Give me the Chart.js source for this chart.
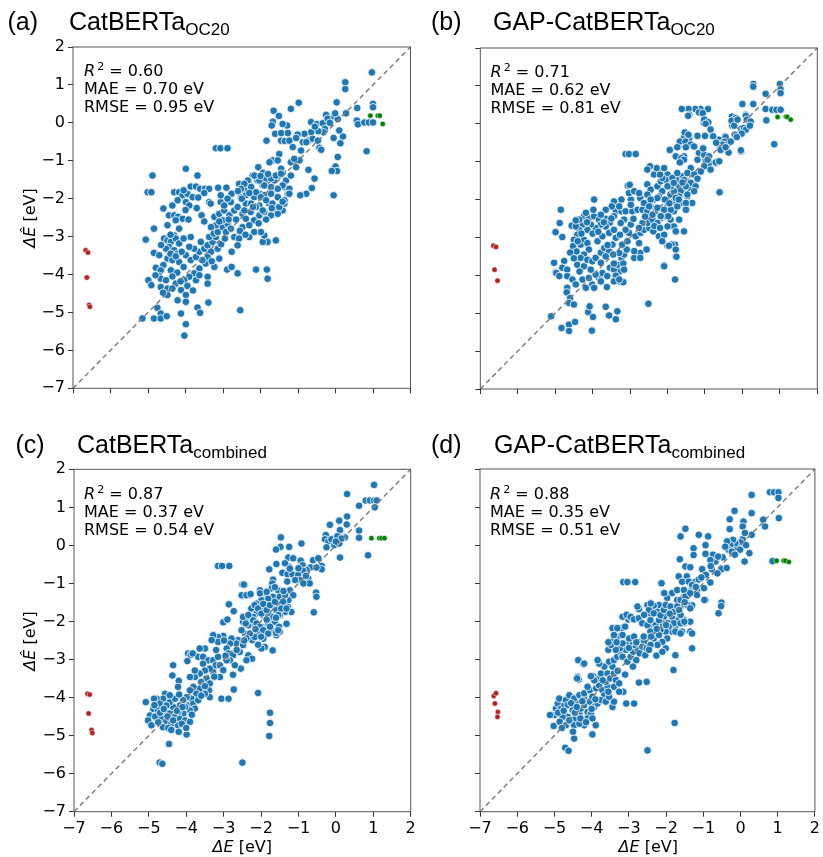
<!DOCTYPE html>
<html>
<head>
<meta charset="utf-8">
<script src="https://cdn.jsdelivr.net/npm/chart.js@4.4.1/dist/chart.umd.min.js"></script>
<style>
  body { margin: 0; width: 823px; height: 857px; background: #fff; position: relative; overflow: hidden; }
  canvas.panel { position: absolute; left: 0; top: 0; }
  .title { position: absolute; font-family: 'Liberation Sans', Arial, sans-serif; font-size: 25px; line-height: 25px; color: #000; white-space: nowrap; }
  .title sub { font-size: 17px; vertical-align: -5px; line-height: 0; }
  .stats { position: absolute; font-family: 'DejaVu Sans', sans-serif; font-size: 16px; line-height: 18.2px; color: #000; white-space: nowrap; }
  .stats sup { font-size: 11px; vertical-align: 6px; line-height: 0; margin-left: 2px; }
  .axlabel { position: absolute; font-family: 'DejaVu Sans', sans-serif; font-size: 16px; line-height: 16px; color: #000; white-space: nowrap; transform: translate(-50%, -50%); }
  .axlabel.y { transform: translate(-50%, -50%) rotate(-90deg); }
</style>
</head>
<body>
<canvas id="pa" class="panel" width="823" height="857"></canvas>
<canvas id="pb" class="panel" width="823" height="857"></canvas>
<canvas id="pc" class="panel" width="823" height="857"></canvas>
<canvas id="pd" class="panel" width="823" height="857"></canvas>

<div class="title" style="left:7.5px; top:9px;">(a)</div>
<div class="title" style="left:69px; top:9px;">CatBERTa<sub>OC20</sub></div>
<div class="title" style="left:431px; top:9px;">(b)</div>
<div class="title" style="left:493px; top:9px;">GAP-CatBERTa<sub>OC20</sub></div>
<div class="title" style="left:15.5px; top:432px;">(c)</div>
<div class="title" style="left:77px; top:432px;">CatBERTa<sub>combined</sub></div>
<div class="title" style="left:431px; top:432px;">(d)</div>
<div class="title" style="left:494px; top:432px;">GAP-CatBERTa<sub>combined</sub></div>

<div class="stats" style="left:84px; top:62px;"><i>R</i><sup>2</sup> = 0.60<br>MAE = 0.70 eV<br>RMSE = 0.95 eV</div>
<div class="stats" style="left:490.5px; top:63px;"><i>R</i><sup>2</sup> = 0.71<br>MAE = 0.62 eV<br>RMSE = 0.81 eV</div>
<div class="stats" style="left:84px; top:485px;"><i>R</i><sup>2</sup> = 0.87<br>MAE = 0.37 eV<br>RMSE = 0.54 eV</div>
<div class="stats" style="left:490px; top:485px;"><i>R</i><sup>2</sup> = 0.88<br>MAE = 0.35 eV<br>RMSE = 0.51 eV</div>

<div class="axlabel y" style="left:30px; top:217.5px;"><i>ΔÊ</i> [eV]</div>
<div class="axlabel y" style="left:30px; top:640.5px;"><i>ΔÊ</i> [eV]</div>
<div class="axlabel" style="left:242.3px; top:846.5px;"><i>ΔE</i> [eV]</div>
<div class="axlabel" style="left:648.3px; top:846.5px;"><i>ΔE</i> [eV]</div>

<script>
// axis range shared by all four parity plots
const axisMin = -7;
const axisMax = 2;
const parityLine = [-7, 2];

// (a) CatBERTa OC20: [true dE, predicted dE]
const pointsA = [
  [-3.19,-0.67],[-3.07,-0.67],[-2.88,-0.67],[-3.99,-1.21],
  [-4.88,-1.39],[-3.68,-1.39],[-5.01,-1.83],[-4.91,-1.83],
  [-3.86,-1.68],[-3.72,-1.68],[-3.61,-1.74],[-3.48,-1.74],[-3.37,-1.74],[-3.13,-1.71],[-2.91,-1.71],[-4.30,-1.83],
  [-4.17,-1.83],[-4.08,-1.91],[-3.95,-1.87],[-3.81,-1.96],[-3.99,-2.09],[-4.21,-2.04],[-4.35,-2.18],[-3.90,-2.18],
  [-4.59,-2.26],[-3.66,-1.97],[-3.37,-2.09],[-3.33,-2.13],[-3.06,-2.09],[-3.57,-2.44],[-4.44,-2.44],[-4.30,-2.44],
  [-4.20,-2.48],[-4.08,-2.53],[-4.26,-2.57],[-4.48,-2.70],[-4.84,-2.79],[-4.17,-2.79],[-4.30,-2.97],[-5.06,-3.08],
  [-4.57,-3.05],[-4.48,-3.10],[-4.39,-3.14],[-4.26,-3.05],[-4.17,-3.18],[-4.44,-3.27],[-4.30,-3.36],[-4.21,-3.45],
  [-4.84,-3.43],[-4.70,-3.49],[-4.48,-3.58],[-4.35,-3.62],[-4.17,-3.67],[-4.59,-3.75],[-4.79,-3.82],[-4.66,-3.89],
  [-4.39,-3.89],[-4.70,-4.04],[-4.66,-4.11],[-4.99,-4.15],[-4.91,-4.28],[-4.66,-4.33],[-4.48,-4.37],[-4.48,-4.54],
  [-4.26,-4.24],[-4.35,-4.37],[-4.12,-4.41],[-3.99,-4.54],[-4.21,-4.68],[-3.99,-4.72],[-4.75,-4.88],[-4.66,-5.03],
  [-4.84,-5.16],[-4.66,-5.16],[-4.50,-5.10],[-5.15,-5.16],[-4.12,-5.03],[-3.99,-5.31],[-4.03,-5.61],[-3.68,-4.87],
  [-3.61,-5.01],[-3.39,-4.74],[-2.54,-4.94],
  [-3.99,-3.49],[-3.86,-3.62],[-3.72,-3.54],[-3.63,-3.40],[-3.50,-3.32],[-3.41,-3.23],[-3.28,-3.14],[-3.19,-3.01],
  [-3.32,-3.40],[-3.14,-3.32],[-3.41,-3.54],[-3.46,-3.71],[-3.63,-3.84],[-3.77,-3.97],[-3.90,-4.06],[-4.03,-4.15],
  [-3.72,-4.15],[-3.63,-4.02],[-3.41,-4.06],[-3.41,-4.24],[-3.23,-3.80],[-3.10,-3.58],[-3.77,-3.32],[-3.90,-3.27],
  [-3.86,-3.01],[-3.59,-3.14],[-3.37,-3.01],[-3.25,-2.92],[-3.14,-2.88],[-3.01,-2.75],[-2.88,-2.66],[-2.92,-2.88],
  [-2.79,-2.79],[-2.70,-3.01],[-2.57,-3.05],[-2.61,-3.23],[-2.77,-3.40],[-2.89,-3.87],[-2.77,-3.80],[-2.61,-3.97],
  [-2.12,-3.87],[-1.83,-3.87],[-1.81,-4.11],[-1.59,-3.10],[-1.81,-3.14],[-1.94,-3.14],[-1.90,-2.97],
  [-3.23,-2.48],[-3.10,-2.40],[-2.97,-2.31],[-2.83,-2.44],[-3.01,-2.57],[-3.19,-2.70],[-3.32,-2.75],[-2.70,-2.31],
  [-2.61,-2.22],[-2.48,-2.40],[-2.39,-2.53],[-2.26,-2.35],[-2.17,-2.57],[-2.03,-2.44],[-1.90,-2.35],[-1.99,-2.88],
  [-2.17,-2.88],[-2.30,-3.01],[-2.48,-2.75],[-2.30,-2.70],[-2.52,-1.96],[-2.57,-1.61],[-2.43,-1.78],[-2.30,-1.61],
  [-2.21,-1.39],[-2.08,-1.52],[-1.94,-1.65],[-1.81,-1.56],[-1.63,-1.52],[-1.50,-1.39],[-1.41,-1.30],[-1.72,-1.78],
  [-1.59,-1.74],[-1.36,-1.69],[-2.03,-1.87],[-1.90,-1.91],[-2.17,-1.96],[-2.03,-2.18],[-1.77,-2.13],[-1.63,-2.26],
  [-1.41,-2.31],[-1.54,-2.40],[-1.36,-2.13],[-2.39,-2.13],[-2.79,-2.09],[-2.97,-2.18],[-3.06,-1.91],[-2.77,-1.87],
  [-2.88,-2.00],
  [0.97,1.33],[0.26,1.07],[0.26,0.89],[1.00,0.50],[1.00,0.41],[0.03,0.54],[0.58,0.39],[-0.98,0.53],
  [-1.19,0.37],[-1.65,0.32],[-1.51,0.18],[-1.67,0.03],[-1.70,-0.07],[-1.29,-0.07],[-1.41,-0.03],[-0.65,0.02],
  [-0.50,-0.03],[-0.34,-0.01],[-0.25,0.21],[-0.21,0.11],[-0.03,0.17],[0.06,0.10],[0.28,0.25],[-0.01,0.25],
  [-0.28,-0.16],[-0.32,-0.25],[-0.46,-0.22],[-0.65,-0.25],[-1.61,-0.29],[-1.45,-0.27],[-1.27,-0.27],[-1.02,-0.31],
  [-0.83,-0.29],[-0.72,-0.47],[-0.61,-0.42],[-0.47,-0.47],[-1.84,-0.47],[-1.45,-0.47],[-1.35,-0.48],[-1.23,-0.47],
  [-1.14,-0.64],[-1.01,-0.31],[-0.92,-0.73],[-0.87,-0.51],[-0.78,-0.51],[-0.43,-0.66],[-0.38,-0.71],[-0.05,-0.40],
  [0.20,-0.36],[0.13,-0.54],[0.06,-0.90],[0.00,-1.15],[0.04,-1.27],[-0.10,-1.27],[-0.05,-1.91],[0.57,0.06],
  [0.60,-0.04],[0.77,0.01],[0.89,0.01],[1.00,0.01],[0.83,-0.75],
  [-1.50,-0.82],[-1.67,-0.99],[-1.76,-1.04],[-1.54,-0.99],[-1.45,-1.21],[-1.19,-1.04],[-0.96,-0.99],[-1.05,-1.17],
  [-0.72,-1.24],[-0.56,-1.47],[-0.63,-1.72],[-0.78,-1.87],[-0.94,-1.91],[-2.06,-1.17],[-1.94,-1.32],[-2.03,-1.52],
  [-1.85,-1.47],[-1.72,-1.47],[-1.59,-1.39],[-1.45,-1.34],[-1.32,-1.52],[-1.19,-1.39],[-1.41,-1.65],[-1.23,-1.74],
  [-1.27,-1.87],[-1.54,-1.74],[-1.72,-1.69],[-1.90,-1.65],[-2.16,-1.39],[-2.34,-1.52],[-2.25,-1.69],[-2.43,-1.61],
  [-2.52,-1.74],[-2.12,-1.83],[-2.39,-1.91],[-2.50,-2.00],[-1.99,-1.96],[-1.85,-2.04],[-1.68,-2.13],[-1.54,-1.96],
  [-1.72,-1.87],[-2.25,-2.13],[-2.12,-2.22],[-2.43,-2.31],[-1.94,-2.31],[-1.72,-2.44],[-1.50,-2.22],[-1.36,-2.04],
  [-1.23,-1.87],[-1.41,-2.08],
  [-4.52,-3.32],[-4.40,-3.45],[-4.26,-3.52],[-4.10,-3.40],[-4.05,-3.80],[-4.22,-3.95],[-4.52,-4.15],[-4.35,-4.05],
  [-4.13,-4.18],[-3.95,-4.30],[-3.80,-4.42],[-4.60,-4.48],[-4.80,-4.02],[-3.55,-3.62],[-3.30,-3.65],[-3.05,-3.20],
  [-2.95,-3.05],[-3.10,-2.60],[-2.85,-2.55],[-2.65,-2.55],[-2.55,-2.85],[-2.40,-2.95],[-2.20,-2.22],[-2.05,-2.65],
  [-1.85,-2.55],[-1.70,-2.25],[-2.30,-1.85],[-2.60,-1.80],[-2.00,-1.40],[-1.80,-1.35],[-4.05,-1.78],[-3.50,-1.85],
  [-4.40,-2.95],[-4.65,-3.22],[-4.05,-3.05],[-3.92,-2.55],[-3.70,-2.25],[-3.50,-2.60],[-4.00,-2.30],[-1.10,-0.95],
  [-1.05,-0.40],[-0.55,-0.10],[-0.15,0.00],[0.10,-0.20]
];
const redA = [[-6.66,-3.36],[-6.60,-3.42],[-6.63,-4.08],[-6.57,-4.80],[-6.55,-4.85]];
const greenA = [[0.93,0.19],[1.13,0.19],[1.18,0.19],[1.26,-0.03]];

// (b) GAP-CatBERTa OC20
const pointsB = [
  [0.29,1.05],[0.29,0.98],[1.00,1.05],[1.02,0.91],[1.02,0.81],[0.62,0.79],[0.00,0.52],[0.29,0.52],
  [0.62,0.39],[0.80,0.37],[0.91,0.37],[1.02,0.37],[0.64,0.09],[0.85,-0.54],[0.09,0.24],[0.13,0.13],
  [0.06,-0.16],[-0.04,-0.20],[-0.28,0.19],[-0.27,-0.05],[-0.18,0.15],[-0.46,-0.33],[-0.37,-0.46],[-0.55,-0.60],
  [-0.37,-0.76],[-0.04,-0.73],[-0.92,0.39],[-1.12,0.39],[-1.26,0.39],[-1.44,0.39],[-1.62,0.39],[-1.42,0.24],
  [-1.00,0.11],[-1.03,0.02],[-0.94,0.04],[-0.80,-0.32],[-1.00,-0.32],[-0.62,-0.42],[-0.53,-0.51],[-1.51,-0.25],
  [-1.56,-0.36],[-1.42,-0.38],[-1.71,-0.60],[-1.29,-0.60],[-1.94,-0.70],[-1.78,-0.86],[-1.56,-0.86],[-1.16,-0.82],
  [-0.98,-0.95],[-0.89,-1.04],[-0.71,-1.04],[-0.61,-1.81],[-3.12,-0.80],[-3.03,-0.80],[-2.85,-0.80],[-3.96,-2.00],
  [-3.06,-1.63],[-4.85,-2.27],[-4.88,-2.62],[-4.99,-2.86],[-4.81,-2.99],[-5.03,-3.67],[-4.99,-3.92],[-5.11,-5.08],
  [-4.83,-5.39],[-4.63,-5.30],[-4.63,-5.47],[-4.47,-5.23],[-4.02,-5.46],[-4.12,-4.97],[-3.99,-5.10],[-4.08,-4.82],
  [-3.65,-4.83],[-3.56,-5.06],[-3.38,-5.16],[-3.34,-4.95],[-2.51,-4.75],[-2.09,-3.74],[-1.80,-4.11],[-1.78,-3.50],
  [-1.80,-3.19],[-2.00,-3.22],[-1.89,-3.19],[-1.56,-2.84],[-1.49,-2.27],[-1.51,-2.14],[-2.55,-3.32],[-2.76,-3.50],
  [-2.89,-3.54],[-3.28,-4.16],[-3.29,-3.90],
  [-4.56,-2.69],[-4.23,-2.44],[-4.10,-2.49],[-3.96,-2.44],[-3.83,-2.53],[-3.65,-2.51],[-3.38,-2.31],[-3.23,-2.31],
  [-3.12,-2.31],[-2.94,-2.31],[-2.80,-2.27],[-2.67,-2.27],[-3.43,-2.44],[-3.54,-2.61],[-3.65,-2.71],[-3.78,-2.66],
  [-3.92,-2.75],[-4.05,-2.66],[-4.14,-2.80],[-4.27,-2.66],[-4.36,-2.80],[-4.41,-2.93],[-4.50,-3.06],[-4.52,-3.23],
  [-4.43,-3.37],[-4.32,-3.19],[-4.23,-3.06],[-4.14,-3.15],[-4.10,-3.32],[-4.23,-3.45],[-4.32,-3.54],[-4.41,-3.72],
  [-4.23,-3.76],[-4.14,-3.59],[-4.01,-3.63],[-3.92,-3.54],[-3.78,-3.40],[-3.69,-3.28],[-3.87,-3.10],[-3.74,-2.97],
  [-3.56,-2.88],[-3.43,-2.80],[-3.38,-3.01],[-3.47,-3.19],[-3.56,-3.37],[-3.65,-3.50],[-3.78,-3.67],[-4.76,-3.62],
  [-4.81,-3.80],[-4.68,-3.85],[-4.97,-3.94],[-4.89,-4.02],[-4.68,-4.02],[-4.54,-4.11],[-4.68,-4.33],[-4.69,-4.45],
  [-4.60,-4.60],[-4.63,-4.73],[-4.50,-4.77],[-4.45,-4.24],[-4.27,-4.11],[-4.18,-4.33],[-4.01,-4.24],[-3.96,-4.33],
  [-3.83,-4.07],[-3.74,-3.94],[-3.61,-4.02],[-3.54,-3.80],[-3.43,-3.85],[-3.34,-3.72],[-3.23,-3.54],[-3.16,-3.45],
  [-3.29,-3.41],[-3.09,-3.32],[-3.21,-3.19],[-3.07,-3.10],[-3.03,-2.88],[-3.12,-2.80],[-3.27,-2.93],[-2.98,-2.66],
  [-2.91,-2.51],[-3.16,-2.53],[-3.25,-2.62],[-3.38,-4.01],[-3.43,-4.16],[-3.62,-4.31],[-3.78,-4.16],[-3.92,-3.98],
  [-4.10,-4.07],[-3.18,-4.18],[-3.29,-4.11],[-3.18,-3.69],[-3.43,-3.69],
  [-2.73,-3.41],[-2.89,-3.36],[-2.56,-3.32],[-2.76,-3.15],[-2.85,-2.97],[-2.72,-2.88],[-2.63,-2.80],[-2.49,-2.75],
  [-2.54,-2.62],[-2.67,-2.62],[-2.76,-2.75],[-2.40,-2.53],[-2.43,-2.36],[-2.54,-2.31],[-2.32,-2.31],[-2.18,-2.49],
  [-2.27,-2.62],[-2.38,-2.84],[-2.23,-2.97],[-2.09,-2.93],[-2.14,-3.10],[-2.73,-3.54],[-3.16,-3.85],
  [-2.98,-2.00],[-2.73,-1.96],[-2.98,-2.14],[-2.63,-2.09],[-2.45,-2.18],[-2.23,-2.22],[-2.05,-2.31],[-2.00,-2.18],
  [-1.83,-2.31],[-2.05,-2.44],[-1.92,-2.53],[-1.69,-2.53],[-1.83,-2.71],[-2.00,-2.71],[-1.78,-2.84],[-1.96,-3.22],
  [-1.78,-3.32],[-1.76,-3.51],[-2.09,-3.76],
  [-3.43,-2.05],[-3.23,-2.00],[-3.29,-2.18],[-3.49,-2.18],[-3.65,-2.27],[-3.78,-2.40],[-3.98,-2.27],[-4.18,-2.35],
  [-4.36,-2.53],[-4.45,-2.71],
  [-3.03,-1.83],[-2.89,-1.78],[-2.76,-1.83],[-3.01,-1.61],[-2.54,-1.60],[-2.45,-1.74],[-2.27,-1.65],[-2.14,-1.78],
  [-2.23,-1.92],[-2.54,-1.87],[-2.36,-2.00],[-2.05,-2.00],[-1.92,-1.87],[-1.87,-1.74],[-1.69,-1.65],[-1.74,-1.48],
  [-1.60,-1.39],[-1.47,-1.52],[-1.60,-1.74],[-1.38,-1.74],[-1.47,-1.92],[-1.34,-2.09],[-1.64,-2.09],[-1.83,-2.05],
  [-2.18,-1.52],[-2.00,-1.34],[-1.87,-1.56],[-2.23,-1.26],[-2.36,-1.34],
  [-1.45,0.21],[-1.16,0.30],[-1.06,0.28],[-0.98,0.06],[-1.02,0.11],[-0.91,0.04],[-0.98,0.00],
  [-0.29,0.08],[-0.22,-0.05],[-0.13,0.11],[0.09,0.21],[0.12,0.11],[0.22,0.06],[0.04,-0.11],[0.09,-0.16],
  [-0.02,-0.26],[-0.20,-0.29],[-0.45,-0.35],[-0.47,-0.47],[-0.53,-0.55],[-0.60,-0.64],[-0.36,-0.51],[-0.31,-0.47],
  [-0.04,-0.70],[-1.54,-0.23],[-1.44,-0.29],[-1.20,-0.32],[-0.78,-0.33],[-1.67,-0.47],[-1.52,-0.47],[-1.38,-0.55],
  [-1.74,-0.62],[-1.51,-0.62],[-1.29,-0.60],[-1.94,-0.69],[-1.16,-0.77],[-1.63,-0.91],[-1.56,-0.95],[-1.67,-1.02],
  [-1.02,-0.82],[-0.89,-0.86],[-0.71,-1.02],[-0.93,-0.95],[-1.20,-0.95],[-1.02,-1.12],[-1.11,-1.26],[-0.85,-1.21],
  [-0.62,-0.99],[-0.58,-0.69],[-0.45,-0.62],
  [-1.38,-1.17],[-1.47,-1.30],[-1.29,-1.34],[-1.56,-1.48],[-1.38,-1.56],[-1.51,-1.65],[-1.25,-1.65],[-1.29,-1.78],
  [-1.65,-1.78],[-1.47,-1.87],[-1.69,-1.92],[-1.83,-1.78],[-1.91,-1.65],[-2.05,-1.48],[-2.14,-1.43],[-2.20,-1.34],
  [-2.29,-1.17],[-2.47,-1.12],[-2.54,-1.21],[-2.09,-1.17],[-2.00,-1.65],[-1.78,-1.96],[-2.07,-2.00],[-2.27,-1.96],
  [-2.45,-2.00],[-2.49,-2.18],[-2.27,-2.22],[-2.09,-2.27],[-1.91,-2.27],[-1.98,-2.44],[-2.18,-2.44],[-2.40,-2.40],
  [-1.74,-2.18],[-1.51,-2.09],[-1.51,-2.27],[-1.87,-1.43],[-1.74,-1.30],[-1.83,-1.56],
  [-4.45,-2.55],[-4.30,-2.90],[-4.00,-2.90],[-3.85,-2.85],[-3.70,-2.60],[-3.50,-2.50],[-4.40,-3.10],[-4.15,-2.60],
  [-4.60,-3.40],[-4.50,-3.55],[-4.35,-3.90],[-4.05,-3.85],[-3.60,-3.20],[-3.45,-3.45],[-2.60,-2.45],[-2.35,-2.70],
  [-2.20,-2.75],[-1.95,-2.10],[-1.70,-2.00],[-1.60,-1.55],[-1.20,-1.45],[-1.05,-0.65],[-0.70,-0.50],[-0.85,-0.15],
  [-0.15,-0.35],[0.20,-0.05]
];
const redB = [[-6.65,-3.22],[-6.58,-3.25],[-6.62,-3.85],[-6.54,-4.14]];
const greenB = [[0.94,0.18],[1.16,0.19],[1.20,0.18],[1.29,0.11]];

// (c) CatBERTa combined
const pointsC = [
  [1.02,1.59],[0.30,1.35],[0.80,1.18],[0.91,1.18],[1.02,1.18],[1.09,1.18],[1.04,1.00],[0.62,1.04],
  [0.30,0.76],[0.29,0.55],[0.09,0.65],[-0.16,0.54],[0.11,0.40],[0.62,0.39],[0.62,0.20],[0.24,0.21],
  [0.86,-0.26],[0.11,-0.32],[-0.27,0.27],[-0.29,0.16],[-0.20,0.10],[-0.12,0.16],[-0.04,0.01],[0.02,0.14],
  [0.04,0.24],[0.09,0.05],[0.15,0.18],
  [-1.48,-0.04],[-1.25,-0.04],[-0.92,0.05],[-1.47,0.21],[-1.60,-0.11],
  [-1.27,-0.32],[-1.14,-0.34],[-0.94,-0.40],[-1.25,-0.56],[-1.36,-0.47],[-1.59,-0.49],[-1.78,-0.63],[-1.43,-0.72],
  [-1.29,-0.76],[-1.16,-0.76],[-0.89,-0.52],[-0.68,-0.58],[-0.61,-0.39],[-0.47,-0.34],[-0.38,-0.54],[-0.38,-0.63],
  [-0.52,-0.58],[-0.78,-0.65],[-0.87,-0.67],[-1.01,-0.78],[-0.96,-0.91],[-0.74,-0.87],[-0.70,-1.00],[-0.87,-1.00],
  [-1.09,-0.91],[-1.68,-0.90],[-1.70,-1.00],[-1.72,-1.13],[-0.53,-1.24],[-0.52,-1.35],[-0.59,-1.76],[-1.23,-0.61],
  [-1.87,-1.26],[-2.03,-1.18],[-2.30,-1.31],[-2.48,-1.02],[-2.44,-1.04],
  [-1.36,-1.31],[-1.23,-1.18],[-1.14,-1.31],[-1.27,-1.44],[-1.41,-1.40],[-1.50,-1.26],[-1.54,-1.18],[-1.63,-1.10],
  [-1.68,-1.35],[-1.81,-1.40],[-1.99,-1.44],[-2.12,-1.53],[-2.26,-1.66],[-2.03,-1.66],[-1.85,-1.57],[-1.68,-1.57],
  [-1.54,-1.53],[-1.43,-1.57],[-1.28,-1.62],[-1.19,-1.75],[-1.36,-1.75],[-1.50,-1.84],[-1.68,-1.88],[-1.81,-1.79],
  [-1.94,-1.84],[-2.12,-1.79],[-2.21,-1.88],[-2.39,-1.88],[-2.48,-2.01],[-2.34,-2.10],[-2.17,-2.05],[-1.99,-2.14],
  [-1.81,-2.05],[-1.63,-2.01],[-1.52,-2.14],[-1.72,-2.23],[-1.90,-2.27],[-2.08,-2.27],[-2.26,-2.32],[-2.43,-2.32],
  [-1.32,-2.07],[-1.50,-2.27],[-1.59,-2.36],
  [-3.15,-0.54],[-3.04,-0.54],[-2.85,-0.54],[-2.50,-1.03],[-2.46,-1.03],[-2.50,-1.33],[-2.30,-1.29],[-2.03,-1.26],
  [-2.86,-1.55],[-2.73,-1.73],[-3.01,-2.02],[-2.90,-1.95],[-2.52,-1.31],[-2.39,-1.31],[-2.28,-1.28],[-1.85,-1.22],
  [-2.17,-1.57],[-2.08,-1.66],[-1.94,-1.54],[-1.99,-1.79],[-1.85,-1.70],[-1.76,-1.57],[-1.63,-1.48],[-1.50,-1.35],
  [-1.36,-1.31],[-1.41,-1.48],[-1.59,-1.70],[-1.46,-1.66],[-1.32,-1.66],[-1.54,-1.83],[-1.67,-1.88],[-1.32,-2.06],
  [-1.60,-2.30],[-1.54,-2.23],[-1.69,-2.76],[-1.90,-2.67],[-1.99,-2.71],[-2.08,-2.61],[-2.24,-2.49],[-2.17,-2.41],
  [-2.30,-2.32],[-2.39,-2.45],[-2.52,-2.23],[-2.41,-2.05],[-2.48,-1.88],[-2.34,-1.83],[-2.21,-1.97],[-2.12,-2.05],
  [-2.03,-2.14],[-1.94,-2.23],[-1.76,-2.14],[-1.81,-2.32],[-1.94,-2.45],[-2.61,-2.49],[-2.66,-2.58],[-2.48,-2.62],
  [-2.79,-2.45],[-2.83,-2.58],[-2.92,-2.71],[-2.88,-2.84],[-2.75,-2.89],[-2.57,-2.80],[-2.34,-2.89],[-2.24,-2.98],
  [-2.54,-3.24],[-2.75,-3.40],
  [-3.01,-2.38],[-3.15,-2.41],[-3.28,-2.36],[-3.15,-2.54],[-3.32,-2.49],[-2.99,-2.50],[-3.50,-2.71],[-3.64,-2.71],
  [-3.81,-2.84],[-3.95,-2.84],[-3.88,-2.88],[-3.68,-2.93],[-3.55,-2.93],[-3.41,-3.02],[-3.55,-3.11],[-3.28,-3.02],
  [-3.15,-2.93],[-3.21,-3.15],[-3.10,-3.15],[-3.01,-3.28],[-3.10,-3.46],[-3.28,-3.33],[-3.37,-3.24],[-3.50,-3.29],
  [-3.64,-3.37],[-3.77,-3.46],[-3.46,-3.50],[-3.60,-3.59],[-3.37,-3.63],[-3.39,-3.81],[-3.37,-3.99],[-3.50,-3.90],
  [-3.64,-3.77],[-3.73,-3.90],[-3.81,-3.72],[-3.86,-4.03],[-3.90,-3.81],[-3.99,-3.99],[-4.08,-4.07],[-3.95,-4.21],
  [-3.81,-4.16],[-3.68,-4.07],[-3.77,-4.29],[-3.90,-4.34],[-4.03,-4.25],[-4.17,-4.21],[-4.08,-4.42],[-4.21,-4.38],
  [-4.35,-4.25],[-4.44,-4.12],[-4.30,-4.03],[-4.19,-3.92],[-4.57,-3.90],[-4.44,-3.94],[-4.62,-4.03],[-4.79,-4.03],
  [-4.71,-4.16],[-4.53,-4.21],[-4.88,-4.30],[-4.75,-4.34],[-4.57,-4.38],[-4.44,-4.42],[-4.30,-4.51],[-4.17,-4.56],
  [-4.03,-4.60],[-3.90,-4.64],[-4.97,-4.47],[-4.83,-4.50],[-4.66,-4.56],[-4.53,-4.62],[-4.40,-4.69],[-4.22,-4.73],
  [-5.02,-4.60],[-4.93,-4.73],[-4.62,-4.78],[-4.48,-4.80],[-4.12,-4.69],[-3.99,-4.97],[-5.08,-4.12],[-4.86,-4.03],
  [-4.35,-3.15],[-4.37,-3.42],[-4.20,-3.56],[-4.22,-3.72],[-3.97,-3.04],[-3.83,-2.84],[-3.90,-3.46],[-3.77,-3.29],
  [-3.06,-4.03],[-2.87,-4.03],[-2.73,-3.79],[-2.08,-3.88],[-1.76,-4.40],[-1.76,-4.67],[-1.78,-5.01],[-2.50,-5.71],
  [-4.46,-5.22],[-4.71,-5.71],[-4.64,-5.74],
  [-2.83,-3.02],[-2.70,-3.15],[-2.92,-3.02],[-2.39,-3.02],
  [-4.85,-4.20],[-4.70,-4.40],[-4.50,-4.50],[-4.35,-4.60],[-4.25,-4.35],[-4.10,-4.25],[-4.60,-4.30],[-4.75,-4.65],
  [-4.40,-4.85],[-4.20,-4.90],[-4.00,-4.80],[-3.85,-4.45],[-3.60,-3.95],[-3.50,-3.70],[-3.25,-3.45],[-3.20,-2.75],
  [-2.95,-2.90],[-2.65,-2.75],[-2.45,-2.50],[-2.15,-2.20],[-2.00,-2.40],[-1.85,-1.95],[-1.60,-1.90],[-1.40,-1.20],
  [-1.30,-0.95],[-1.00,-0.60],[-0.80,-0.80],[-0.25,-0.05],[0.00,0.10]
];
const redC = [[-6.64,-3.90],[-6.58,-3.92],[-6.61,-4.42],[-6.53,-4.85],[-6.51,-4.93]];
const greenC = [[0.95,0.19],[1.16,0.19],[1.22,0.19],[1.30,0.19]];

// (d) GAP-CatBERTa combined
const pointsD = [
  [0.79,1.39],[0.90,1.39],[1.02,1.39],[1.02,1.24],[0.30,1.32],[-0.16,0.90],[0.30,0.84],[0.61,0.67],
  [0.66,0.49],[1.03,0.71],[-0.29,0.68],[-0.29,0.42],[0.08,0.62],[0.06,0.49],[0.30,0.27],[0.06,0.16],
  [0.12,0.32],[0.00,0.07],[-0.10,-0.03],[-0.01,-0.12],[0.11,-0.43],[0.24,-0.21],[-0.14,0.05],[-0.20,0.14],
  [-0.27,0.00],[-0.32,-0.12],[-0.36,0.10],[-0.41,-0.04],[-0.23,-0.17],[0.86,-0.42],
  [-1.48,0.43],[-1.61,0.23],[-1.12,0.27],[-0.87,0.23],[-1.26,-0.08],[-0.94,-0.23],[-0.74,-0.25],[-0.48,-0.32],
  [-0.67,-0.43],[-0.81,-0.39],[-0.94,0.00],[-1.26,-0.26],[-1.48,-0.56],[-1.35,-0.58],[-1.63,-0.37],[-1.03,-0.63],
  [-0.93,-0.78],[-0.81,-0.98],[-0.77,-0.63],[-0.50,-0.63],[-0.62,-0.74],[-0.37,-0.60],
  [-1.44,-0.82],[-1.66,-0.82],[-1.57,-0.96],[-1.39,-0.96],[-1.21,-0.96],[-1.30,-1.05],[-1.12,-0.90],[-0.98,-1.13],
  [-1.17,-1.18],[-1.17,-1.31],[-1.35,-1.22],[-1.52,-1.35],[-1.70,-1.44],[-1.84,-1.26],[-1.97,-1.39],[-2.05,-1.26],
  [-2.14,-1.00],[-1.70,-1.18],[-1.52,-1.18],[-1.43,-1.54],[-1.30,-1.58],[-1.61,-1.61],[-1.75,-1.70],[-1.88,-1.66],
  [-2.06,-1.61],[-2.19,-1.57],[-2.33,-1.59],[-2.46,-1.57],[-2.24,-1.75],[-2.42,-1.79],[-2.06,-1.88],[-1.84,-1.88],
  [-1.66,-1.96],[-1.52,-1.96],[-1.93,-2.05],[-2.10,-2.05],[-2.28,-2.09],[-2.46,-2.14],[-1.75,-2.14],[-1.52,-2.05],
  [-1.61,-2.27],[-1.35,-2.27],[-1.84,-2.27],[-2.06,-2.27],[-2.33,-2.32],[-0.94,-1.44],[-0.51,-1.51],[-0.52,-1.60],
  [-0.59,-1.79],[-0.97,-1.44],
  [-3.15,-0.97],[-3.04,-0.97],[-2.83,-0.97],[-2.12,-1.00],[-2.73,-1.68],[-3.01,-1.95],[-2.91,-1.93],
  [-1.30,-2.71],[-1.75,-2.89],[-1.80,-3.28],[-2.26,-2.90],[-2.01,-2.71],
  [-3.55,-2.75],[-3.44,-2.18],[-3.20,-2.18],[-3.40,-2.45],
  [-4.36,-3.02],[-4.22,-3.13],[-4.38,-3.46],[-4.35,-3.53],[-3.96,-3.44],
  [-3.07,-4.16],[-2.86,-4.16],
  [-5.00,-4.46],[-5.12,-4.46],[-5.02,-4.75],[-4.47,-5.08],[-3.98,-4.97],[-4.71,-5.32],[-4.62,-5.40],[-2.50,-5.39],
  [-1.77,-4.67],
  [-4.96,-4.29],[-4.91,-4.16],[-4.87,-4.03],[-4.82,-4.29],[-4.73,-4.20],[-4.69,-4.07],[-4.60,-3.94],[-4.64,-4.20],
  [-4.51,-4.33],[-4.64,-4.51],[-4.78,-4.51],[-4.86,-4.64],[-4.69,-4.73],[-4.55,-4.64],[-4.47,-4.73],[-4.42,-4.55],
  [-4.33,-4.42],[-4.29,-4.29],[-4.20,-4.20],[-4.38,-4.16],[-4.47,-4.03],[-4.33,-3.94],[-4.20,-4.03],[-4.11,-4.38],
  [-4.02,-4.42],[-4.11,-4.55],[-3.98,-4.55],[-3.89,-4.73],[-4.20,-4.73],[-4.33,-4.69],[-4.20,-3.89],[-4.05,-3.81],
  [-4.05,-4.11],[-3.93,-4.25],[-3.84,-4.16],[-3.98,-3.98],[-4.11,-3.72],[-3.88,-3.76],[-3.80,-3.68],[-3.71,-3.81],
  [-3.66,-3.94],[-3.75,-4.07],[-3.62,-4.11],[-3.44,-4.25],[-3.40,-4.11],[-3.53,-3.98],[-3.57,-3.72],[-3.62,-3.59],
  [-3.80,-3.50],[-3.93,-3.55],[-4.02,-3.44],[-3.75,-3.37],[-3.66,-3.19],[-3.57,-3.37],[-3.50,-3.50],[-3.40,-3.72],
  [-3.35,-3.54],[-3.26,-3.63],[-3.40,-3.37],[-3.44,-3.19],[-3.53,-3.06],[-3.80,-3.11],[-3.84,-3.02],[-4.20,-3.11],
  [-4.39,-3.50],[-3.15,-3.85],[-3.26,-3.85],
  [-3.40,-3.02],[-3.31,-2.93],[-3.20,-2.84],[-3.08,-2.75],[-3.24,-2.71],[-3.35,-2.75],[-3.17,-2.93],[-3.04,-3.06],
  [-2.95,-2.93],[-2.88,-2.80],[-2.77,-2.71],[-2.86,-2.62],[-2.99,-2.58],[-3.08,-2.58],[-3.17,-2.58],[-2.99,-2.45],
  [-2.86,-2.40],[-2.73,-2.54],[-2.59,-2.54],[-2.64,-2.67],[-2.52,-2.71],[-2.71,-2.84],[-2.56,-2.89],[-2.80,-3.02],
  [-2.89,-3.19],[-2.73,-3.61],[-2.52,-3.59],[-3.48,-2.62],[-3.31,-2.40],[-3.17,-2.36],[-3.40,-2.36],[-3.33,-2.55],
  [-3.10,-2.14],[-3.55,-2.55],[-3.31,-2.18],
  [-3.17,-1.88],[-3.06,-1.83],[-2.95,-1.88],[-2.86,-1.95],[-2.73,-1.92],[-2.77,-1.61],[-2.50,-1.57],[-2.46,-1.70],
  [-2.41,-1.53],[-2.33,-1.79],[-2.59,-1.83],[-2.64,-2.05],[-2.50,-2.10],[-2.42,-1.97],[-2.28,-2.10],[-2.19,-1.97],
  [-2.15,-1.84],[-2.06,-1.70],[-2.01,-1.57],[-1.88,-1.61],[-1.79,-1.75],[-1.70,-1.61],[-1.61,-1.44],[-1.48,-1.35],
  [-1.35,-1.26],[-1.43,-1.57],[-1.35,-1.66],[-1.61,-1.83],[-1.79,-2.05],[-1.93,-2.14],[-2.01,-2.27],[-2.15,-2.23],
  [-2.42,-2.27],[-1.97,-2.45],[-2.10,-2.54],[-2.23,-2.62],[-2.33,-2.45],[-2.42,-2.62],[-2.46,-2.75],[-2.19,-2.36],
  [-1.61,-2.05],[-1.75,-2.27],[-1.35,-2.01],[-1.51,-2.01],[-1.57,-2.27],[-1.61,-2.32],[-1.30,-2.32],[-2.10,-2.80],
  [-4.90,-4.40],[-4.75,-4.35],[-4.60,-4.60],[-4.45,-4.40],[-4.30,-4.55],[-4.15,-4.65],[-4.55,-4.15],[-4.40,-4.25],
  [-4.25,-4.10],[-4.00,-4.30],[-3.90,-4.05],[-4.80,-4.80],[-4.50,-4.90],[-3.70,-3.55],[-3.55,-3.85],[-3.30,-3.30],
  [-3.10,-3.40],[-3.00,-2.70],[-2.80,-2.55],[-2.60,-2.40],[-2.40,-2.40],[-2.25,-2.20],[-2.00,-2.10],[-1.90,-1.80],
  [-1.65,-1.70],[-1.50,-1.50],[-1.20,-1.10],[-1.05,-0.85],[-0.80,-0.55],[-0.60,-0.30],[-0.15,-0.25],[0.15,0.00]
];
const redD = [[-6.63,-3.96],[-6.57,-3.89],[-6.60,-4.16],[-6.52,-4.38],[-6.53,-4.51]];
const greenD = [[0.97,-0.41],[1.16,-0.41],[1.21,-0.41],[1.30,-0.44]];

// plot boxes on the page (left, top, right, bottom)
const boxes = {
  pa: [73, 47, 410.5, 388.3],
  pb: [480.3, 48, 817.3, 389],
  pc: [74, 469.3, 410.7, 811.7],
  pd: [480, 469, 816.7, 811.7]
};
const yAxisW = 60;
const xAxisH = 40;

const toXY = arr => arr.map(p => ({ x: p[0], y: p[1] }));
const fmtTick = v => (v < 0 ? '\u2212' + Math.abs(v) : String(v));

// matplotlib-style box around the axes
const framePlugin = {
  id: 'frame',
  afterDatasetsDraw(chart) {
    const a = chart.chartArea, ctx = chart.ctx;
    ctx.save();
    ctx.strokeStyle = '#555';
    ctx.lineWidth = 1;
    ctx.strokeRect(a.left, a.top, a.right - a.left, a.bottom - a.top);
    ctx.restore();
  }
};

function axisOpts(showLabels, isX) {
  return {
    type: 'linear',
    min: axisMin,
    max: axisMax,
    ticks: {
      stepSize: 1,
      display: showLabels,
      color: '#000',
      padding: 3,
      font: { family: "'DejaVu Sans', sans-serif", size: 16 },
      callback: fmtTick
    },
    grid: { drawOnChartArea: false, drawTicks: true, tickLength: 5, tickColor: '#333', lineWidth: 1 },
    border: { display: false },
    afterFit: s => { if (isX) s.height = xAxisH; else s.width = yAxisW; }
  };
}

function makePanel(id, points, red, green, showX, showY) {
  const b = boxes[id];
  new Chart(document.getElementById(id), {
    type: 'scatter',
    data: {
      datasets: [
        {
          data: parityLine.map(v => ({ x: v, y: v })),
          showLine: true,
          borderColor: '#808080',
          borderWidth: 1.5,
          borderDash: [5, 3.5],
          pointRadius: 0,
          order: 0
        },
        {
          data: toXY(points),
          backgroundColor: '#1f77b4',
          borderColor: '#ffffff',
          borderWidth: 0.8,
          pointRadius: 3.8,
          order: 3
        },
        {
          data: toXY(red),
          backgroundColor: '#b22222',
          borderColor: '#ffffff',
          borderWidth: 0.5,
          pointRadius: 2.7,
          order: 2
        },
        {
          data: toXY(green),
          backgroundColor: '#008000',
          borderColor: '#ffffff',
          borderWidth: 0.5,
          pointRadius: 2.7,
          order: 1
        }
      ]
    },
    options: {
      responsive: false,
      animation: false,
      devicePixelRatio: 1,
      events: [],
      layout: {
        padding: { left: b[0] - yAxisW, top: b[1], right: 823 - b[2], bottom: 857 - b[3] - xAxisH }
      },
      plugins: { legend: { display: false }, tooltip: { enabled: false } },
      scales: {
        x: axisOpts(showX, true),
        y: axisOpts(showY, false)
      }
    },
    plugins: [framePlugin]
  });
}

makePanel('pa', pointsA, redA, greenA, false, true);
makePanel('pb', pointsB, redB, greenB, false, false);
makePanel('pc', pointsC, redC, greenC, true, true);
makePanel('pd', pointsD, redD, greenD, true, false);
</script>
</body>
</html>
